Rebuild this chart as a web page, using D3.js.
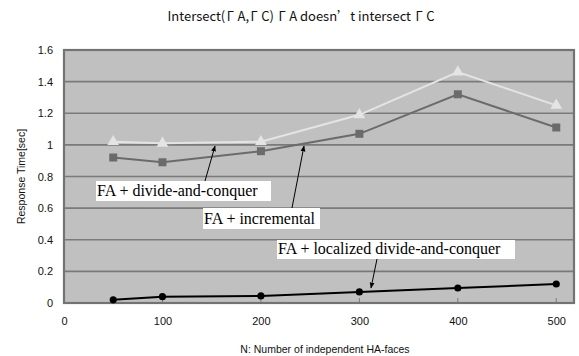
<!DOCTYPE html>
<html><head><meta charset="utf-8">
<script src="https://cdn.jsdelivr.net/npm/d3@7"></script>
<style>body{margin:0;background:#fff}svg{display:block}.fw{font-feature-settings:"fwid" 1}</style>
</head><body>
<script>
const xValues = [50, 100, 200, 300, 400, 500];
const divideConquer = [1.02, 1.01, 1.02, 1.19, 1.46, 1.25];
const incremental = [0.92, 0.89, 0.96, 1.07, 1.32, 1.11];
const localized = [0.02, 0.04, 0.045, 0.07, 0.095, 0.12];
const xTicks = [0, 100, 200, 300, 400, 500];
const yTicks = [0, 0.2, 0.4, 0.6, 0.8, 1, 1.2, 1.4, 1.6];
const titleParts = ["Intersect(", "Γ", "A,", "Γ", "C) ", "Γ", "A doesn", "’", "t intersect ", "Γ", "C"];
const xTitle = "N: Number of independent HA-faces";
const yTitle = "Response Time[sec]";
const labels = ["FA + divide-and-conquer", "FA + incremental", "FA + localized divide-and-conquer"];

const W = 579, H = 356;
const m = {l: 64, r: 5, t: 50, b: 53};
const svg = d3.select("body").append("svg").attr("width", W).attr("height", H);
const x = d3.scaleLinear().domain([0, 518]).range([m.l, W - m.r]);
const y = d3.scaleLinear().domain([0, 1.6]).range([H - m.b, m.t]);
const sans = "'Liberation Sans', Arial, sans-serif";

svg.append("rect").attr("x", x(0)).attr("y", y(1.6)).attr("width", x(518) - x(0)).attr("height", y(0) - y(1.6)).attr("fill", "#c0c0c0");

// grid
svg.append("g").selectAll("line").data(yTicks.slice(1, -1)).join("line")
  .attr("x1", x(0)).attr("x2", x(518)).attr("y1", d => y(d)).attr("y2", d => y(d))
  .attr("stroke", "#7a7a7a").attr("stroke-width", 1.6);

// y axis
const ya = svg.append("g").attr("transform", `translate(${x(0)},0)`)
  .call(d3.axisLeft(y).tickValues(yTicks).tickSize(0).tickPadding(11).tickFormat(d => d3.format("")(d)));
ya.select(".domain").remove();
ya.selectAll("text").attr("font-family", sans).attr("font-size", 11).attr("fill", "#111");

// x axis
const xa = svg.append("g").attr("transform", `translate(0,${y(0)})`)
  .call(d3.axisBottom(x).tickValues(xTicks).tickSize(0).tickPadding(14));
xa.select(".domain").remove();
xa.selectAll("text").attr("font-family", sans).attr("font-size", 11).attr("fill", "#111");
svg.append("g").selectAll("line").data(xTicks.slice(1)).join("line")
  .attr("x1", d => x(d)).attr("x2", d => x(d)).attr("y1", y(0)).attr("y2", y(0) - 5)
  .attr("stroke", "#7a7a7a").attr("stroke-width", 1);

// border
svg.append("rect").attr("x", x(0)).attr("y", y(1.6)).attr("width", x(518) - x(0)).attr("height", y(0) - y(1.6))
  .attr("fill", "none").attr("stroke", "#737373").attr("stroke-width", 2.2);

const line = d3.line().x((d, i) => x(xValues[i])).y(d => y(d));

function series(data, color, shape, size) {
  svg.append("path").datum(data).attr("d", line).attr("fill", "none").attr("stroke", color).attr("stroke-width", 2);
  svg.append("g").selectAll("path").data(data).join("path")
    .attr("transform", (d, i) => `translate(${x(xValues[i])},${y(d)})`)
    .attr("d", d3.symbol().type(shape).size(size)).attr("fill", color);
}
series(divideConquer, "#e4e4e4", d3.symbolTriangle, 60);
series(incremental, "#6b6b6b", d3.symbolSquare, 64);
series(localized, "#000", d3.symbolCircle, 40);

// title
const tt = svg.append("text").attr("x", 301).attr("y", 21).attr("text-anchor", "middle")
  .attr("font-family", "'Noto Sans CJK JP', sans-serif").attr("font-size", 13).attr("fill", "#111");
let prevWide = false;
titleParts.forEach(p => {
  const wide = (p === "Γ" || p === "’");
  const s = tt.append("tspan").text(p);
  if (wide) s.attr("class", "fw").attr("dx", p === "Γ" ? 1.5 : 0);
  if (prevWide && p !== "’") s.attr("dx", 3.5);
  prevWide = wide && p === "Γ";
});
svg.append("text").attr("x", 325).attr("y", 353).attr("text-anchor", "middle")
  .attr("font-family", sans).attr("font-size", 10.5).attr("fill", "#111").text(xTitle);
svg.append("text").attr("transform", `translate(25,${(y(0) + y(1.6)) / 2}) rotate(-90)`).attr("text-anchor", "middle")
  .attr("font-family", sans).attr("font-size", 10.5).attr("fill", "#111").text(yTitle);

// annotations
const defs = svg.append("defs");
defs.append("marker").attr("id", "ah").attr("viewBox", "0 0 10 10").attr("refX", 9).attr("refY", 5)
  .attr("markerWidth", 6).attr("markerHeight", 6).attr("orient", "auto")
  .append("path").attr("d", "M0,1 L10,5 L0,9 Z").attr("fill", "#000");

const boxes = [
  {t: labels[0], x: 96, y: 181, w: 175, h: 20, ax1: 205, ay1: 181, ax2: 215, ay2: 146},
  {t: labels[1], x: 203, y: 208, w: 117, h: 21, ax1: 292, ay1: 208, ax2: 304, ay2: 146},
  {t: labels[2], x: 277, y: 240, w: 238, h: 19, ax1: 377, ay1: 259, ax2: 371, ay2: 288}
];
boxes.forEach(b => {
  svg.append("line").attr("x1", b.ax1).attr("y1", b.ay1).attr("x2", b.ax2).attr("y2", b.ay2)
    .attr("stroke", "#000").attr("stroke-width", 1).attr("marker-end", "url(#ah)");
  svg.append("rect").attr("x", b.x).attr("y", b.y).attr("width", b.w).attr("height", b.h).attr("fill", "#fff");
  svg.append("text").attr("x", b.x + 1).attr("y", b.y + b.h - 5).attr("font-family", "'Liberation Serif', 'Times New Roman', serif")
    .attr("font-size", 16).attr("fill", "#000").text(b.t);
});
</script>
</body></html>
